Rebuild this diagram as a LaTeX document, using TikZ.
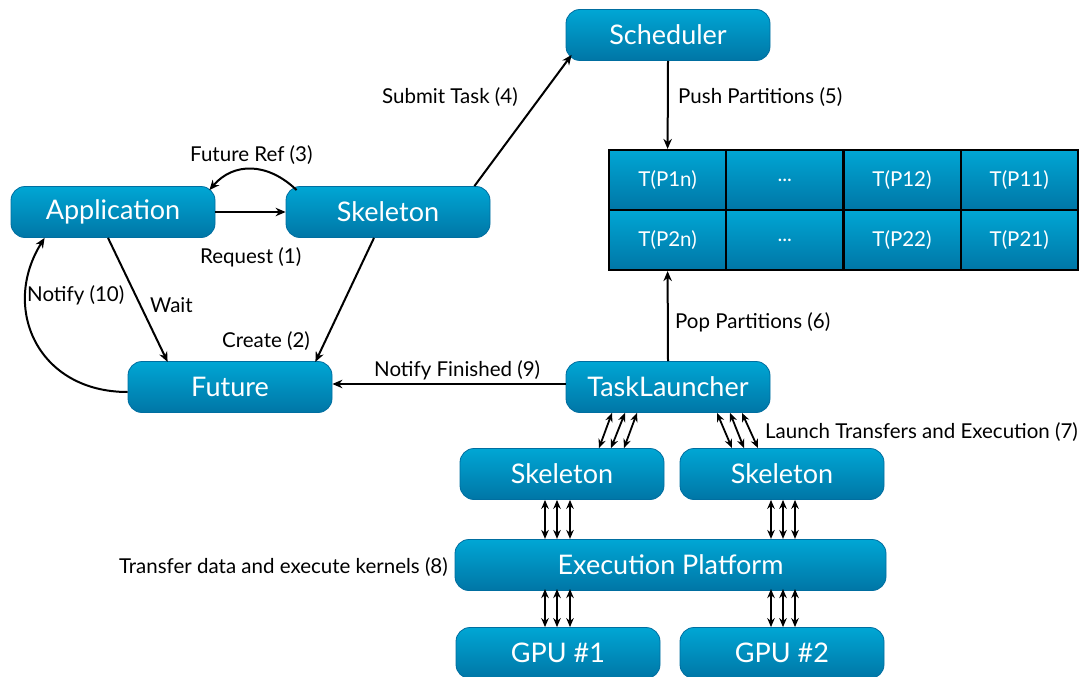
\documentclass[tikz,border=0pt]{standalone}
\usepackage{fontspec}
\setmainfont{Lato}
\usetikzlibrary{arrows.meta,calc}
\definecolor{boxtop}{RGB}{0,166,212}
\definecolor{boxbot}{RGB}{0,118,166}
\definecolor{boxedge}{RGB}{0,110,160}

\begin{document}
\begin{tikzpicture}[x=1pt,y=-1pt,
  box/.style={rounded corners=14pt, top color=boxtop, bottom color=boxbot,
    draw=boxedge, line width=0.8pt, text=white, inner sep=0pt,
    font=\fontsize{27}{30}\selectfont, minimum width=204pt, minimum height=51pt},
  cell/.style={top color=boxtop, bottom color=boxbot, draw=black,
    line width=2.2pt, text=white, inner sep=0pt,
    font=\fontsize{20.5}{24}\selectfont, minimum width=117.2pt, minimum height=60pt},
  lbl/.style={font=\fontsize{20.5}{23}\selectfont, text=black, inner sep=0pt},
  arr/.style={-{Stealth[length=10pt,width=8.5pt]}, line width=2pt},
  darr/.style={{Stealth[length=9pt,width=7.5pt]}-{Stealth[length=9pt,width=7.5pt]}, line width=1.8pt}]

\useasboundingbox (0,0) rectangle (1079,677);

% components
\node[box] (sched) at (668,35) {Scheduler};
\node[box] (app) at (113,212) {Application};
\node[box] (sk) at (388,212) {Skeleton};
\node[box] (fut) at (230,387) {Future};
\node[box] (tl) at (668,387) {TaskLauncher};
\node[box] (skl) at (562,474) {Skeleton};
\node[box] (skr) at (782,474) {Skeleton};
\node[box, minimum width=431pt] (exec) at (670.5,565) {Execution Platform};
\node[box] (gpua) at (558,653) {GPU \#1};
\node[box] (gpub) at (782,653) {GPU \#2};

% partition queue
\node[cell] (c11) at (667.6,180) {T(P1n)};
\node[cell] (c12) at (784.8,180) {...};
\node[cell] (c13) at (902.0,180) {T(P12)};
\node[cell] (c14) at (1019.2,180) {T(P11)};
\node[cell] (c21) at (667.6,240) {T(P2n)};
\node[cell] (c22) at (784.8,240) {...};
\node[cell] (c23) at (902.0,240) {T(P22)};
\node[cell] (c24) at (1019.2,240) {T(P21)};

% connectors
\draw[arr] (app.east) -- (sk.west);
\draw[arr] ($(sk.north west)+(11,4)$)
  .. controls ($(sk.north west)+(-18,-24)$) and ($(app.north east)+(18,-24)$)
  .. ($(app.north east)+(-6,4)$);
\draw[arr] ($(app.south)+(-5,0)$) -- ($(fut.south west)+(40,-51)$);
\draw[arr] ($(sk.south)+(-14,0)$) -- ($(fut.south east)+(-17,-51)$);
\draw[arr] ($(fut.west)+(0,5)$)
  .. controls ($(fut.west)+(-90,5)$) and ($(app.south west)+(-10,70)$)
  .. ($(app.south west)+(34,0)$);
\draw[arr] ($(sk.north east)+(-16,0)$) -- ($(sched.south west)+(6,-6)$);
\draw[arr] (sched.south) -- (c11.north);
\draw[arr] (tl.north) -- (c21.south);
\draw[arr] ($(tl.west)+(0,-3)$) -- ($(fut.east)+(0,-3)$);

\foreach \a/\b in {-56/37,-43/49,-31/62}
  \draw[darr] ($(tl.south)+(\a,0)$) -- ($(skl.north)+(\b,0)$);
\foreach \a/\b in {49/-50,62/-38,74/-24}
  \draw[darr] ($(tl.south)+(\a,0)$) -- ($(skr.north)+(\b,0)$);
\foreach \d in {-17,-5,8} {
  \draw[darr] ($(skl.south)+(\d,0)$) -- ($(skl.south)+(\d,39)$);
  \draw[darr] ($(gpua.north)+(\d+4,-38)$) -- ($(gpua.north)+(\d+4,0)$);
}
\foreach \d in {-11,1,13} {
  \draw[darr] ($(skr.south)+(\d,0)$) -- ($(skr.south)+(\d,39)$);
  \draw[darr] ($(gpub.north)+(\d,-38)$) -- ($(gpub.north)+(\d,0)$);
}

% labels
\node[lbl, anchor=west] (l3) at (190,155) {Future Ref (3)};
\node[lbl, anchor=west] (l1) at (200,257) {Request (1)};
\node[lbl, anchor=west] (lw) at (150,305) {Wait};
\node[lbl, anchor=west] (l2) at (222,341) {Create (2)};
\node[lbl, anchor=west] (l10) at (27,295) {Notify (10)};
\node[lbl, anchor=west] (l4) at (382,97) {Submit Task (4)};
\node[lbl, anchor=west] (l5) at (678,97) {Push Partitions (5)};
\node[lbl, anchor=west] (l6) at (675,322) {Pop Partitions (6)};
\node[lbl, anchor=west] (l9) at (374,370) {Notify Finished (9)};
\node[lbl, anchor=west] (l7) at (765,432) {Launch Transfers and Execution (7)};
\node[lbl, anchor=east] (l8) at (448,567) {Transfer data and execute kernels (8)};
\end{tikzpicture}
\end{document}
